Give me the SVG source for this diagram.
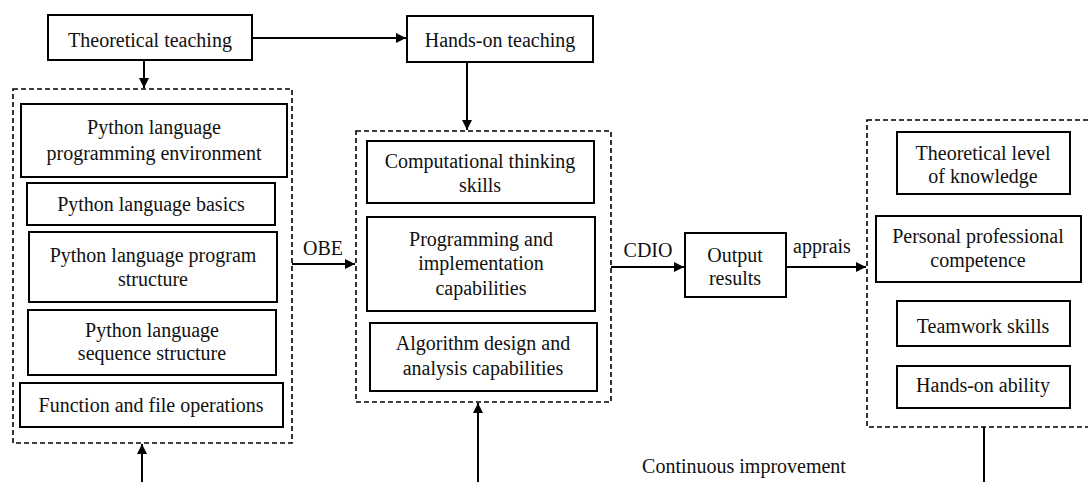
<svg xmlns="http://www.w3.org/2000/svg" width="1088" height="482" viewBox="0 0 1088 482" font-family="'Liberation Serif', 'Times New Roman', serif">
<style>
.box{fill:#fff;stroke:#000;stroke-width:2}
.dash{fill:none;stroke:#000;stroke-width:1.6;stroke-dasharray:5,3}
.ln{fill:none;stroke:#000;stroke-width:2}
text{font-family:"Liberation Serif","Times New Roman",serif;font-size:20px;fill:#111;text-anchor:middle}
</style>
<defs>
<marker id="ah" viewBox="0 0 10 10" refX="10" refY="5" markerWidth="10" markerHeight="10" markerUnits="userSpaceOnUse" orient="auto">
<path d="M0,0 L10,5 L0,10 Z" fill="#000"/>
</marker>
</defs>
<rect width="1088" height="482" fill="#fff"/>
<g id="groups">
<rect id="g-left" class="dash" x="13" y="89" width="279" height="354"/>
<rect id="g-mid" class="dash" x="356" y="131" width="255" height="271"/>
<rect id="g-right" class="dash" x="867" y="120" width="230" height="307"/>
</g>
<g id="connectors">
<line class="ln" x1="252" y1="38" x2="406" y2="38" marker-end="url(#ah)"/>
<line class="ln" x1="144" y1="60" x2="144" y2="88" marker-end="url(#ah)"/>
<line class="ln" x1="467" y1="62" x2="467" y2="130" marker-end="url(#ah)"/>
<line class="ln" x1="292" y1="264" x2="355" y2="264" marker-end="url(#ah)"/>
<line class="ln" x1="611" y1="267" x2="684" y2="267" marker-end="url(#ah)"/>
<line class="ln" x1="786" y1="267" x2="866" y2="267" marker-end="url(#ah)"/>
<line class="ln" x1="142" y1="490" x2="142" y2="444" marker-end="url(#ah)"/>
<line class="ln" x1="478" y1="490" x2="478" y2="403" marker-end="url(#ah)"/>
<line class="ln" x1="984" y1="427" x2="984" y2="490"/>
<text x="323" y="255">OBE</text>
<text x="648" y="257">CDIO</text>
<text x="822" y="253">apprais</text>
<text x="744" y="473">Continuous improvement</text>
</g>
<g id="n-theo"><rect class="box" x="48" y="15" width="204" height="45"/><text x="150" y="47">Theoretical teaching</text></g>
<g id="n-hands"><rect class="box" x="407" y="16" width="186" height="46"/><text x="500" y="47">Hands-on teaching</text></g>
<g id="n-env"><rect class="box" x="21" y="104" width="266" height="73"/><text x="154" y="134">Python language</text><text x="154" y="160">programming environment</text></g>
<g id="n-basics"><rect class="box" x="27" y="183" width="248" height="42"/><text x="151" y="211">Python language basics</text></g>
<g id="n-prog"><rect class="box" x="29" y="232" width="248" height="70"/><text x="153" y="262">Python language program</text><text x="153" y="286">structure</text></g>
<g id="n-seq"><rect class="box" x="28" y="310" width="248" height="65"/><text x="152" y="337">Python language</text><text x="152" y="360">sequence structure</text></g>
<g id="n-func"><rect class="box" x="20" y="383" width="263" height="44"/><text x="151" y="412">Function and file operations</text></g>
<g id="n-comp"><rect class="box" x="367" y="141" width="227" height="62"/><text x="480" y="168">Computational thinking</text><text x="480" y="192">skills</text></g>
<g id="n-impl"><rect class="box" x="367" y="217" width="228" height="94"/><text x="481" y="246">Programming and</text><text x="481" y="270">implementation</text><text x="481" y="295">capabilities</text></g>
<g id="n-algo"><rect class="box" x="370" y="323" width="227" height="68"/><text x="483" y="350">Algorithm design and</text><text x="483" y="375">analysis capabilities</text></g>
<g id="n-out"><rect class="box" x="685" y="233" width="101" height="64"/><text x="735" y="262">Output</text><text x="735" y="285">results</text></g>
<g id="n-level"><rect class="box" x="897" y="132" width="173" height="62"/><text x="983" y="160">Theoretical level</text><text x="983" y="183">of knowledge</text></g>
<g id="n-pers"><rect class="box" x="876" y="216" width="205" height="66"/><text x="978" y="243">Personal professional</text><text x="978" y="267">competence</text></g>
<g id="n-team"><rect class="box" x="897" y="301" width="173" height="45"/><text x="983" y="333">Teamwork skills</text></g>
<g id="n-handab"><rect class="box" x="897" y="366" width="173" height="42"/><text x="983" y="392">Hands-on ability</text></g>
</svg>
